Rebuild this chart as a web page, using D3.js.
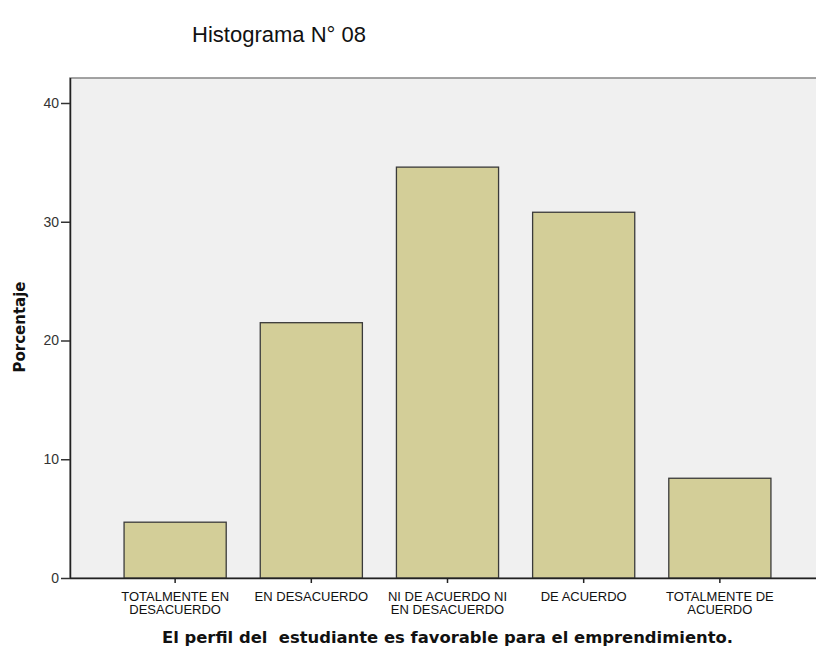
<html>
<head>
<script src='https://d3js.org/d3.v7.min.js'></script>
<style> body {margin: 0; background: white;} </style>
</head>
<body>
<svg width=816 height=648></svg>
<script>
var categories = [['TOTALMENTE EN', 'DESACUERDO'], ['EN DESACUERDO'], ['NI DE ACUERDO NI', 'EN DESACUERDO'], ['DE ACUERDO'], ['TOTALMENTE DE', 'ACUERDO']];
var values = [4.7, 21.5, 34.6, 30.8, 8.4];
var yTicks = [0, 10, 20, 30, 40];

var plotLeft = 70, plotRight = 825, plotTop = 78, plotBottom = 578;
var svg = d3.select('svg');

var x = d3.scaleBand().domain(d3.range(values.length)).range([plotLeft, plotRight])
  .paddingInner(0.25).paddingOuter(0.397);
var y = d3.scaleLinear().domain([0, 40]).range([plotBottom, 103]);

// plot background
svg.append('rect')
  .attr('x', plotLeft).attr('y', plotTop)
  .attr('width', plotRight - plotLeft).attr('height', plotBottom - plotTop)
  .style('fill', '#f0f0f0')
  .style('stroke', '#858585')
  .style('stroke-width', 1.5);

// bars
svg.append('g').selectAll('rect')
  .data(values)
  .enter()
  .append('rect')
  .attr('x', function (d, i) { return x(i); })
  .attr('y', function (d) { return y(d); })
  .attr('width', x.bandwidth())
  .attr('height', function (d) { return plotBottom - y(d); })
  .style('fill', '#d3ce98')
  .style('stroke', '#3a3a3a')
  .style('stroke-width', 1.3);

// y axis
var yAxis = svg.append('g')
  .attr('transform', 'translate(' + plotLeft + ',0)')
  .call(d3.axisLeft(y).tickValues(yTicks).tickSize(9).tickPadding(2));
yAxis.select('.domain').attr('d', 'M0.5,' + plotTop + 'V' + plotBottom).style('stroke', '#222').style('stroke-width', 1.5);
yAxis.selectAll('.tick line').style('stroke', '#333').style('stroke-width', 1.5);
yAxis.selectAll('text').style('font-family', 'Liberation Sans, Arial').style('font-size', '14px').style('fill', '#333');

// x axis
var xAxis = svg.append('g')
  .attr('transform', 'translate(0,' + plotBottom + ')')
  .call(d3.axisBottom(x).tickSize(5).tickFormat(''));
xAxis.select('.domain').attr('d', 'M' + plotLeft + ',0.5H' + plotRight).style('stroke', '#222').style('stroke-width', 1.5);
xAxis.selectAll('.tick line').style('stroke', '#222').style('stroke-width', 1.5);

svg.append('g').selectAll('text')
  .data(categories)
  .enter()
  .append('text')
  .attr('x', function (d, i) { return x(i) + x.bandwidth() / 2; })
  .attr('y', 601)
  .attr('text-anchor', 'middle')
  .style('font-family', 'Liberation Sans, Arial')
  .style('font-size', '13px')
  .style('fill', '#111')
  .each(function (d) {
    var t = d3.select(this);
    d.forEach(function (line, k) {
      t.append('tspan').attr('x', t.attr('x')).attr('dy', k === 0 ? 0 : 12.7).text(line);
    });
  });

// title
svg.append('text')
  .attr('x', 279).attr('y', 42)
  .attr('text-anchor', 'middle')
  .style('font-family', 'Liberation Sans, Arial')
  .style('font-size', '22px')
  .style('fill', '#111')
  .text('Histograma N° 08');

// y title
svg.append('text')
  .attr('text-anchor', 'middle')
  .attr('transform', 'translate(25,327)rotate(-90)')
  .style('font-family', 'DejaVu Sans')
  .style('font-size', '15px')
  .style('font-weight', 'bold')
  .style('fill', '#111')
  .text('Porcentaje');

// x title, centred on the whole plot area
svg.append('text')
  .attr('text-anchor', 'middle')
  .attr('x', (plotLeft + plotRight) / 2).attr('y', 643)
  .style('font-family', 'DejaVu Sans')
  .style('font-size', '16.4px')
  .style('font-weight', 'bold')
  .style('fill', '#111')
  .style('white-space', 'pre')
  .text('El perfil del  estudiante es favorable para el emprendimiento.');
</script>
</body>
</html>
